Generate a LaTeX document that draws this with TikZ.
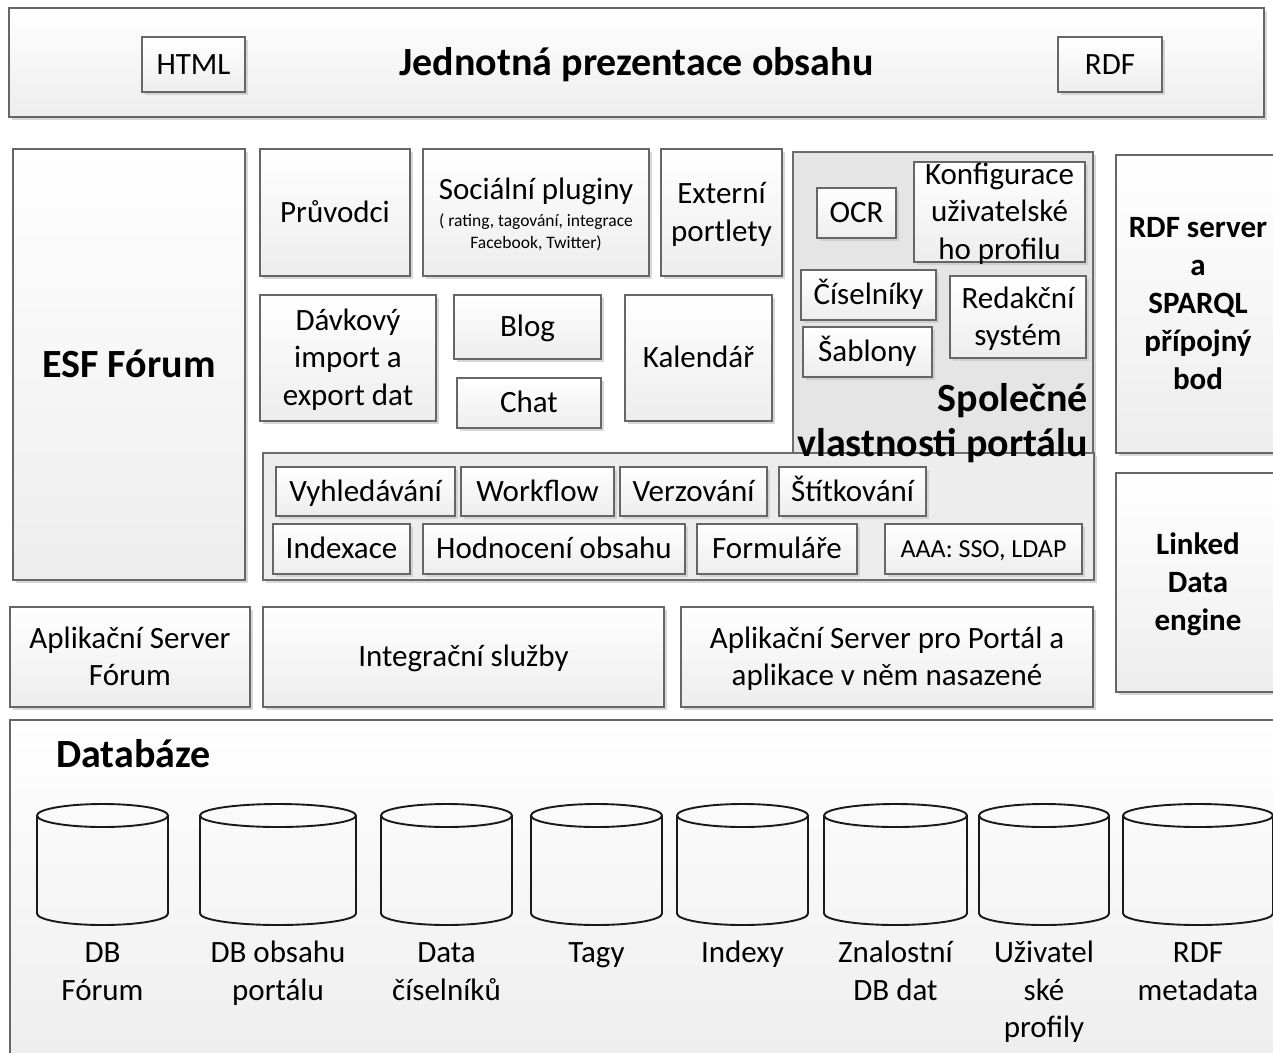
\documentclass[tikz,border=0pt]{standalone}
\usepackage{fontspec}
\setmainfont{Carlito}
\usetikzlibrary{shadows}

% text sizes used in the diagram
\newcommand\txtnorm{\fontsize{31}{37.5}\selectfont}
\newcommand\txtbig{\fontsize{40}{45}\selectfont\bfseries}
\newcommand\txtbold{\fontsize{31}{38}\selectfont\bfseries}
\newcommand\txtsmall{\fontsize{17.5}{22}\selectfont}
\newcommand\txtaaa{\fontsize{26}{31}\selectfont}
% per-line strut that centres capitals in a line box
\newcommand\lstrut{\vrule height .92em depth .28em width 0pt}

\begin{document}
\begin{tikzpicture}[x=1pt,y=-1pt,
  txt/.style={inner sep=0pt, align=center, font=\txtnorm},
  box/.style={txt, draw=black!60, line width=1.1pt,
    top color=white, bottom color=black!7,
    drop shadow={shadow xshift=3pt, shadow yshift=-3pt, fill=black!22, opacity=0.7}},
  group/.style={draw=black!58, line width=1.1pt, fill=black!#1,
    drop shadow={shadow xshift=3pt, shadow yshift=-3pt, fill=black!22, opacity=0.7}},
  cyl/.style={draw=black!90, line width=1.9pt, line join=round},
  sz/.style 2 args={minimum width=#1pt, minimum height=#2pt},
]
\clip (0,0) rectangle (1273,1052);
\fill[white] (0,0) rectangle (1273,1052);

% presentation layer
\node[box, sz={1255}{109}, font=\txtbig] (top) at (636.5,62.5) {\lstrut Jednotná prezentace obsahu};
\node[box, sz={103}{55}] (html) at (193.5,64.5) {\lstrut HTML};
\node[box, sz={104}{55}] (rdf) at (1110,64.5) {\lstrut RDF};

% forum
\node[box, sz={232}{431}, font=\txtbig] (esf) at (129,364.5) {\lstrut ESF Fórum};

% portal modules
\node[box, sz={150}{127}] (pruv) at (335,212.5) {\lstrut Průvodci};
\node[box, sz={226}{127}] (soc) at (536,212.5) {};
\node[txt] (soctitle) at (536,190) {\lstrut Sociální pluginy};
\node[txt, font=\txtsmall] (socsub) at (536,232.5) {( rating, tagování, integrace\\Facebook, Twitter)};
\node[box, sz={121}{127}] (ext) at (721.5,212.5) {\lstrut Externí\\\lstrut portlety};
\node[box, sz={176}{126}] (davk) at (348,358) {\lstrut Dávkový\\\lstrut import a\\\lstrut export dat};
\node[box, sz={147}{64}] (blog) at (527.5,327) {\lstrut Blog};
\node[box, sz={144}{50}] (chat) at (529,403) {\lstrut Chat};
\node[box, sz={147}{126}] (kal) at (698.5,358) {\lstrut Kalendář};

% common portal features
\node[group=10, minimum width=300pt, minimum height=303pt] (spol) at (943,303.5) {};
\node[group=7, minimum width=831pt, minimum height=127pt] (low) at (678.5,516.5) {};
\node[box, sz={79}{50}] (ocr) at (856.5,213) {\lstrut OCR};
\node[box, sz={171}{100}] (konf) at (999.5,212) {};
\node[txt] (konftext) at (konf.center) {\lstrut Konfigurace\\\lstrut uživatelské\\\lstrut ho profilu};
\node[box, sz={135}{50}] (cis) at (868.5,295) {\lstrut Číselníky};
\node[box, sz={129}{50}] (sab) at (867.5,352) {\lstrut Šablony};
\node[box, sz={136}{82}] (red) at (1018,317) {\lstrut Redakční\\\lstrut systém};
\node[txt, font=\txtbig, align=right, anchor=east] (spoltitle) at (1088,423.5) {Společné\\vlastnosti portálu};

\node[box, sz={179}{49}] (vyh) at (365.5,491.5) {\lstrut Vyhledávání};
\node[box, sz={153}{49}] (wf) at (537.5,491.5) {\lstrut Workflow};
\node[box, sz={147}{49}] (ver) at (693.5,491.5) {\lstrut Verzování};
\node[box, sz={147}{49}] (sti) at (852.5,491.5) {\lstrut Štítkování};
\node[box, sz={137}{50}] (idx) at (341.5,549) {\lstrut Indexace};
\node[box, sz={262}{50}] (hod) at (554,549) {\lstrut Hodnocení obsahu};
\node[box, sz={160}{50}] (form) at (777,549) {\lstrut Formuláře};
\node[box, sz={197}{50}, font=\txtaaa] (aaa) at (983.5,549) {\lstrut AAA: SSO, LDAP};

% semantic web side
\node[box, sz={164}{298}, font=\txtbold] (rdfsrv) at (1198,304)
  {\lstrut RDF server\\\lstrut a\\\lstrut SPARQL\\\lstrut přípojný\\\lstrut bod};
\node[box, sz={164}{219}, font=\txtbold] (lde) at (1198,582.5)
  {\lstrut Linked\\\lstrut Data\\\lstrut engine};

% application servers
\node[box, sz={240}{100}] (asf) at (130,657) {\lstrut Aplikační Server\\\lstrut Fórum};
\node[box, sz={401}{100}] (integ) at (463.5,657) {\lstrut Integrační služby};
\node[box, sz={412}{100}] (asp) at (887,657)
  {\lstrut Aplikační Server pro Portál a\\\lstrut aplikace v něm nasazené};

% databases
\node[box, sz={1280}{350}] (db) at (650,895) {};
\node[txt, font=\txtbig, anchor=west] (dbtitle) at (56,755) {\lstrut Databáze};

\newcommand\dbcyl[4]{%
  \draw[cyl] ({#2-#3},815.5) -- ({#2-#3},913.5)
    arc[start angle=180, end angle=360, x radius=#3pt, y radius=11.5pt]
    -- ({#2+#3},815.5);
  \draw[cyl] (#2,815.5) ellipse [x radius=#3pt, y radius=11.5pt];
  \node[txt, anchor=north] (#1) at (#2,934) {#4};}

\dbcyl{dbforum}{102.5}{65.5}{\lstrut DB\\\lstrut Fórum}
\dbcyl{dbportal}{278}{78}{\lstrut DB obsahu\\\lstrut portálu}
\dbcyl{dbcis}{446.5}{65.5}{\lstrut Data\\\lstrut číselníků}
\dbcyl{dbtag}{596.5}{65.5}{\lstrut Tagy}
\dbcyl{dbidx}{742.5}{65.5}{\lstrut Indexy}
\dbcyl{dbzn}{895.5}{71.5}{\lstrut Znalostní\\\lstrut DB dat}
\dbcyl{dbuser}{1044}{65}{\lstrut Uživatel\\\lstrut ské\\\lstrut profily}
\dbcyl{dbrdf}{1198}{75}{\lstrut RDF\\\lstrut metadata}
\end{tikzpicture}
\end{document}
